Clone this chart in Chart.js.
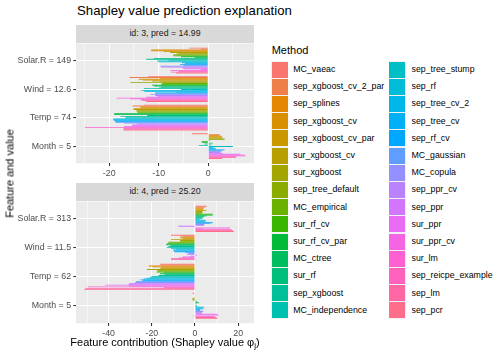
<!DOCTYPE html>
<html>
<head>
<meta charset="utf-8">
<script src="https://cdn.jsdelivr.net/npm/chart.js@4.4.0/dist/chart.umd.min.js"></script>
<style>
  body { margin: 0; width: 504px; height: 360px; background: #fff; position: relative; overflow: hidden;
         font-family: 'Liberation Sans', Arial, sans-serif; }
  .abs { position: absolute; white-space: nowrap; font-weight: normal; }
  canvas { position: absolute; left: 0; }
  .strip { position: absolute; left: 76px; width: 178px; background: #D9D9D9; color: #1A1A1A;
           font-size: 8.8px; text-align: center; }
  .key { position: absolute; width: 17.2px; height: 17.2px; background: #F2F2F2; }
  .key i { position: absolute; left: 0.6px; top: 0.6px; right: 0.6px; bottom: 0.6px; }
  .lab { position: absolute; font-size: 8.8px; line-height: 17.2px; color: #000; white-space: nowrap; }
</style>
</head>
<body>
<div class="abs" style="left:77px;top:3.8px;font-size:13.2px;line-height:13.2px;">Shapley value prediction explanation</div>

<div class="strip" style="top:25px;height:17.8px;line-height:17.8px;">id: 3, pred = 14.99</div>
<div class="strip" style="top:183px;height:17.8px;line-height:17.8px;">id: 4, pred = 25.20</div>

<canvas id="p1" width="260" height="154" style="top:36px"></canvas>
<canvas id="p2" width="260" height="154" style="top:194px"></canvas>

<div class="abs" style="left:165px;top:337.2px;font-size:11px;line-height:11px;transform:translateX(-50%);">Feature contribution (Shapley value &#966;<sub style="font-size:8px;vertical-align:-2px">j</sub>)</div>
<div class="abs" style="left:-40px;top:168px;width:100px;text-align:center;font-size:11px;line-height:11px;transform:rotate(-90deg);">Feature and value</div>

<div class="abs" style="left:271.7px;top:44.7px;font-size:11px;line-height:11px;">Method</div>
<div id="legend"></div>

<script>
// methods, top to bottom inside each bar group (= legend order)
const methods = [
  'MC_vaeac', 'sep_xgboost_cv_2_par', 'sep_splines', 'sep_xgboost_cv', 'sep_xgboost_cv_par',
  'sur_xgboost_cv', 'sur_xgboost', 'sep_tree_default', 'MC_empirical', 'sur_rf_cv',
  'sur_rf_cv_par', 'MC_ctree', 'sur_rf', 'sep_xgboost', 'MC_independence',
  'sep_tree_stump', 'sep_rf', 'sep_tree_cv_2', 'sep_tree_cv', 'sep_rf_cv',
  'MC_gaussian', 'MC_copula', 'sep_ppr_cv', 'sep_ppr', 'sur_ppr',
  'sur_ppr_cv', 'sur_lm', 'sep_reicpe_example', 'sep_lm', 'sep_pcr'
];

const featuresId3 = ['Solar.R = 149', 'Wind = 12.6', 'Temp = 74', 'Month = 5'];
const featuresId4 = ['Solar.R = 313', 'Wind = 11.5', 'Temp = 62', 'Month = 5'];

// id: 3 — Shapley values per method
const id3Solar = [-3.9, -1.5, -11.5, -11.5, -9.0, -7.7, -6.1, -6.5, -7.1, -7.0, -5.5, -2.7, -11.0, -12.5, -8.0,
                  -10.3, -10.0, -5.3, -4.7, -5.7, -5.0, -9.7, -9.5, -5.3, -5.0, -1.5, -7.7, -6.0, -7.5, -6.5];
const id3Wind  = [-12.1, -15.9, -9.7, -14.0, -13.2, -11.3, -9.8, -15.7, -9.3, -9.5, -11.3, -10.9, -9.5, -10.0, -13.0,
                  -5.5, -13.5, -12.9, -6.4, -10.7, -10.7, -11.7, -10.7, -10.2, -12.5, -18.5, -15.8, -13.7, -13.3, -12.5];
const id3Temp  = [-12.9, -15.3, -13.7, -13.7, -15.1, -15.1, -14.5, -14.5, -14.3, -14.3, -19.0, -19.0, -12.3, -17.7, -16.7,
                  -16.7, -19.1, -19.2, -19.0, -18.8, -18.7, -17.0, -14.3, -15.3, -15.5, -17.0, -24.9, -17.1, -17.1, -17.1];
const id3Month = [-3.3, 2.3, 2.3, 2.7, 2.9, 2.8, 3.3, 3.3, 0.3, -1.3, -1.3, 0.9, -0.7, 0.7, -1.9,
                  5.0, 1.0, 1.5, 1.5, 3.3, 2.9, 2.5, 2.5, 3.0, 6.5, 7.5, 7.5, 5.7, 5.5, 2.8];

// id: 4
const id4Solar = [5.4, 4.7, 4.0, 4.0, 3.8, 5.4, 3.5, 3.5, 3.2, 8.2, 8.2, 5.4, 4.2, 3.5, 3.5,
                  2.0, 4.7, 5.1, 4.5, 8.2, 7.0, 4.2, 4.2, -7.7, -0.5, 16.2, 3.5, 16.9, 17.5, 18.0];
const id4Wind  = [-11.1, -5.7, -6.9, -6.9, -5.7, -11.1, -6.9, -6.9, -12.3, -12.6, -13.1, -13.4, -11.2, -12.2, -13.1,
                  -11.1, -8.8, -10.1, -10.0, -9.6, -4.6, -3.1, -3.8, 0.8, -2.3, -5.7, -7.4, -11.1, -11.1, 0.5];
const id4Temp  = [-16.2, -15.7, -21.5, -19.7, -15.7, -16.2, -22.3, -17.4, -17.5, -17.7, -14.5, -16.2, -14.0, -16.9, -20.0,
                  -20.8, -22.3, -23.8, -25.4, -24.2, -27.3, -27.7, -30.4, -30.8, -41.5, -30.5, -49.7, -14.5, -50.8, -51.3];
const id4Month = [-1.1, 0.3, 0.2, 0.3, -0.3, -0.5, -1.2, -1.2, -1.1, 0.5, 1.0, 1.8, 0.5, 0.3, 0.8,
                  1.0, 4.3, 3.5, 4.0, 2.3, 2.5, 3.8, 3.1, 3.3, 10.3, 10.8, -0.8, 9.2, 10.0, 10.3];

// x axis ticks
const id3Major = [-20, -10, 0];
const id3Minor = [-25, -15, -5, 5];
const id4Major = [-40, -20, 0, 20];
const id4Minor = [-50, -30, -10, 10];

// ggplot hue palette (hcl, c = 100, l = 65)
function hcl(h, c, l) {
  const hr = h * Math.PI / 180;
  const U = c * Math.cos(hr), V = c * Math.sin(hr);
  const Y = l > 7.999592 ? Math.pow((l + 16) / 116, 3) : l / 903.3;
  const u = U / (13 * l) + 0.1978398;
  const v = V / (13 * l) + 0.4683363;
  const X = 9 * Y * u / (4 * v);
  const Z = -X / 3 - 5 * Y + 3 * Y / v;
  const lin = [3.240479 * X - 1.537150 * Y - 0.498535 * Z,
              -0.969256 * X + 1.875992 * Y + 0.041556 * Z,
               0.055648 * X - 0.204043 * Y + 1.057311 * Z];
  return '#' + lin.map(t => {
    let g = t > 0.0031308 ? 1.055 * Math.pow(t, 1 / 2.4) - 0.055 : 12.92 * t;
    g = Math.min(1, Math.max(0, g));
    return Math.round(255 * g).toString(16).padStart(2, '0');
  }).join('');
}
const colors = methods.map((m, k) => hcl(15 + 360 / methods.length * k, 100, 65));

Chart.defaults.font.family = "'Liberation Sans', Arial, sans-serif";

const panelBg = {
  id: 'panelBg',
  beforeDraw(chart) {
    const { ctx, chartArea: a } = chart;
    ctx.save();
    ctx.fillStyle = '#EBEBEB';
    ctx.fillRect(a.left, a.top, a.right - a.left, a.bottom - a.top);
    ctx.restore();
  }
};

function makePanel(id, labels, rows, xMin, xMax, major, minor, axisHeight) {
  const xTicks = major.concat(minor).sort((a, b) => a - b);
  const isMajor = v => major.includes(v);
  return new Chart(document.getElementById(id), {
    type: 'bar',
    data: {
      datasets: methods.map((m, k) => ({
        label: m,
        data: rows.map((r, i) => ({ x: r[k], y: i + 1 })),
        backgroundColor: colors[k],
        borderWidth: 0,
      })),
    },
    options: {
      indexAxis: 'y',
      responsive: false,
      animation: false,
      events: [],
      categoryPercentage: 0.9,
      barPercentage: 1,
      layout: { padding: { top: 6.8, right: 6, bottom: 0, left: 0 } },
      plugins: { legend: { display: false }, tooltip: { enabled: false } },
      scales: {
        y: {
          type: 'linear', reverse: true, min: 0.4, max: 4.6, offset: false,
          afterBuildTicks: s => { s.ticks = labels.map((l, i) => ({ value: i + 1 })); },
          afterFit: s => { s.width = 76; },
          border: { display: false },
          grid: { offset: false, color: '#FFFFFF', lineWidth: 1.07, tickColor: '#333333', tickLength: 2.74, tickWidth: 1.07 },
          ticks: { color: '#4D4D4D', font: { size: 8.8 }, padding: 2.2, autoSkip: false,
                   callback: v => labels[v - 1] },
        },
        x: {
          type: 'linear', min: xMin, max: xMax, offset: false,
          afterBuildTicks: s => { s.ticks = xTicks.map(v => ({ value: v })); },
          afterFit: s => { s.height = axisHeight; },
          border: { display: false },
          grid: {
            offset: false,
            color: '#FFFFFF',
            lineWidth: c => (c.tick && isMajor(c.tick.value)) ? 1.07 : 0.53,
            tickColor: c => (c.tick && isMajor(c.tick.value)) ? '#333333' : 'rgba(0,0,0,0)',
            tickLength: 2.74, tickWidth: 1.07,
          },
          ticks: { color: '#4D4D4D', font: { size: 8.8 }, padding: 2.2, autoSkip: false, maxRotation: 0,
                   callback: v => isMajor(v) ? String(v) : '' },
        },
      },
    },
    plugins: [panelBg],
  });
}

makePanel('p1', featuresId3, [id3Solar, id3Wind, id3Temp, id3Month], -26.7, 9.25, id3Major, id3Minor, 26.8);
makePanel('p2', featuresId4, [id4Solar, id4Wind, id4Temp, id4Month], -55.1, 27.3, id4Major, id4Minor, 24.8);

// legend, two columns of 15
const legend = document.getElementById('legend');
methods.forEach((m, k) => {
  const col = Math.floor(k / 15), row = k % 15;
  const kx = col === 0 ? 271.2 : 388.8;
  const lx = col === 0 ? 293.3 : 411.5;
  const y = 61 + row * 17.2;
  legend.insertAdjacentHTML('beforeend',
    `<div class="key" style="left:${kx}px;top:${y}px"><i style="background:${colors[k]}"></i></div>` +
    `<div class="lab" style="left:${lx}px;top:${y}px">${m}</div>`);
});
</script>
</body>
</html>
